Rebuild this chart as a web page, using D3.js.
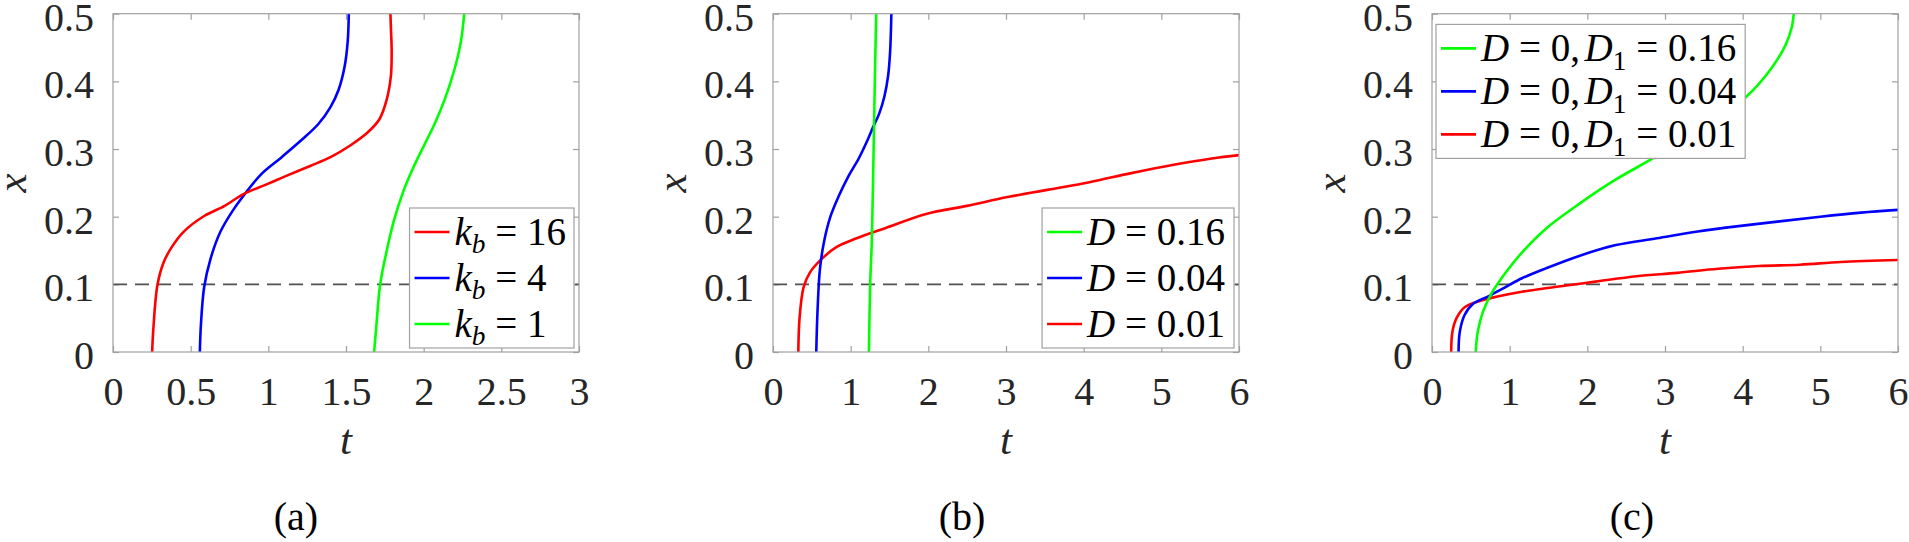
<!DOCTYPE html>
<html>
<head>
<meta charset="utf-8">
<title>Front position x(t) for different parameters</title>
<script src="https://d3js.org/d3.v7.min.js"></script>
<style>
    body { margin: 0; background: #fff; }
    svg { display: block; }
    svg text { font-family: "Liberation Serif", "Times New Roman", "DejaVu Serif", serif; }
    .frame { fill: none; stroke: #a0a0a0; stroke-width: 1.2px; }
    .axis path { display: none; }
    .axis line { stroke: #a0a0a0; stroke-width: 1.2px; }
    .axis text { fill: #262626; font-size: 40px; }
    .curve { fill: none; stroke-width: 2.6px; }
    .thresh { stroke: #505050; stroke-width: 1.8px; stroke-dasharray: 14 8; }
    .legend-box { fill: #fff; stroke: #a0a0a0; stroke-width: 1.2px; }
    .legend text { font-size: 39px; fill: #000; }
    .label { font-size: 43px; font-style: italic; fill: #262626; }
    .caption { font-size: 40px; fill: #000; }
</style>
</head>
<body>
<div id="chart"></div>
<script>
// ---- tick values / labels ----
const tTicksA = [0, 0.5, 1, 1.5, 2, 2.5, 3];
const tLabelsA = ["0", "0.5", "1", "1.5", "2", "2.5", "3"];
const tTicksBC = [0, 1, 2, 3, 4, 5, 6];
const tLabelsBC = ["0", "1", "2", "3", "4", "5", "6"];
const xTicks = [0, 0.1, 0.2, 0.3, 0.4, 0.5];
const xLabels = ["0", "0.1", "0.2", "0.3", "0.4", "0.5"];
const threshold = 0.1;
const captions = ["(a)", "(b)", "(c)"];

// ---- panel (a): k_b ----
const kb16T = [0.252, 0.26, 0.286, 0.325, 0.378, 0.456, 0.587, 0.719, 0.837, 0.981, 1.112, 1.269, 1.40, 1.532, 1.637, 1.715, 1.762, 1.789, 1.794, 1.789, 1.786];
const kb16X = [0, 0.035, 0.099, 0.132, 0.155, 0.178, 0.201, 0.216, 0.233, 0.247, 0.26, 0.275, 0.288, 0.306, 0.324, 0.344, 0.373, 0.408, 0.444, 0.48, 0.5];
const kb4T = [0.559, 0.566, 0.587, 0.627, 0.692, 0.771, 0.85, 0.955, 1.086, 1.217, 1.322, 1.40, 1.453, 1.492, 1.511, 1.518];
const kb4X = [0, 0.04, 0.096, 0.137, 0.178, 0.209, 0.234, 0.263, 0.288, 0.314, 0.337, 0.362, 0.388, 0.423, 0.459, 0.5];
const kb1T = [1.681, 1.694, 1.72, 1.755, 1.807, 1.873, 1.938, 2.004, 2.07, 2.135, 2.20, 2.24, 2.261];
const kb1X = [0, 0.035, 0.1, 0.142, 0.193, 0.24, 0.275, 0.306, 0.337, 0.373, 0.419, 0.459, 0.5];

// ---- panel (b): D ----
const d16T = [1.235, 1.251, 1.272, 1.298, 1.314, 1.329];
const d16X = [0, 0.1, 0.163, 0.316, 0.419, 0.5];
const d04T = [0.557, 0.573, 0.604, 0.657, 0.736, 0.841, 0.972, 1.104, 1.209, 1.287, 1.366, 1.435, 1.482, 1.508, 1.524];
const d04X = [0, 0.06, 0.122, 0.163, 0.199, 0.229, 0.26, 0.286, 0.311, 0.332, 0.352, 0.378, 0.408, 0.444, 0.5];
const d01T = [0.326, 0.342, 0.394, 0.473, 0.604, 0.815, 1.077, 1.445, 1.971, 2.496, 3.022, 3.547, 4.073, 4.598, 5.124, 5.649, 6];
const d01X = [0, 0.05, 0.096, 0.117, 0.135, 0.155, 0.168, 0.183, 0.204, 0.216, 0.229, 0.24, 0.251, 0.264, 0.276, 0.286, 0.291];

// ---- panel (c): D = 0, D_1 ----
const e16T = [0.563, 0.589, 0.658, 0.763, 0.947, 1.158, 1.474, 1.895, 2.368, 2.842, 3.263, 3.684, 4.053, 4.368, 4.553, 4.632, 4.658];
const e16X = [0, 0.03, 0.06, 0.086, 0.117, 0.147, 0.183, 0.219, 0.255, 0.286, 0.316, 0.347, 0.378, 0.419, 0.454, 0.48, 0.5];
const e04T = [0.342, 0.358, 0.421, 0.526, 0.737, 0.947, 1.158, 1.474, 1.895, 2.368, 2.895, 3.421, 3.947, 4.474, 5.0, 5.526, 6];
const e04X = [0, 0.03, 0.055, 0.071, 0.083, 0.096, 0.109, 0.124, 0.142, 0.158, 0.168, 0.178, 0.186, 0.193, 0.2, 0.206, 0.21];
const e01T = [0.247, 0.263, 0.316, 0.421, 0.632, 0.842, 1.158, 1.579, 2.105, 2.632, 3.158, 3.684, 4.211, 4.737, 5.263, 6];
const e01X = [0, 0.03, 0.05, 0.066, 0.076, 0.082, 0.089, 0.096, 0.104, 0.112, 0.117, 0.123, 0.127, 0.129, 0.133, 0.136];

const RED = "#ff0000", BLUE = "#0000ff", GREEN = "#00ff00";

const panels = [
    { left: 113, tMax: 3, ticks: tTicksA, labels: tLabelsA, caption: captions[0], captionX: 296,
      legend: { corner: "br", gap: 46 },
      series: [
        { t: kb16T, x: kb16X, color: RED, label: "k_b = 16" },
        { t: kb4T, x: kb4X, color: BLUE, label: "k_b = 4" },
        { t: kb1T, x: kb1X, color: GREEN, label: "k_b = 1" } ] },
    { left: 773, tMax: 6, ticks: tTicksBC, labels: tLabelsBC, caption: captions[1], captionX: 962,
      legend: { corner: "br", gap: 46 },
      series: [
        { t: d16T, x: d16X, color: GREEN, label: "D = 0.16" },
        { t: d04T, x: d04X, color: BLUE, label: "D = 0.04" },
        { t: d01T, x: d01X, color: RED, label: "D = 0.01" } ] },
    { left: 1432, tMax: 6, ticks: tTicksBC, labels: tLabelsBC, caption: captions[2], captionX: 1632,
      legend: { corner: "tl", gap: 43 },
      series: [
        { t: e16T, x: e16X, color: GREEN, label: "D = 0, D_1 = 0.16" },
        { t: e04T, x: e04X, color: BLUE, label: "D = 0, D_1 = 0.04" },
        { t: e01T, x: e01X, color: RED, label: "D = 0, D_1 = 0.01" } ] }
];

const W = 1909, H = 542;
const pw = 466, plotTop = 13.7, plotBottom = 352;

const svg = d3.select("#chart").append("svg")
    .attr("width", W).attr("height", H);
svg.append("rect").attr("width", W).attr("height", H).attr("fill", "#fff");

// write "k_b = 16" style labels: letters italic, _x subscript, TeX-ish spacing round "="
function mathText(textSel, str, fs) {
    let pendingDx = 0, shifted = false;
    const s = str.replace(/ /g, "");
    for (let i = 0; i < s.length; i++) {
        const c = s[i];
        if (c === "_") {
            const sub = s[++i];
            textSel.append("tspan").text(sub)
                .attr("font-style", /[A-Za-z]/.test(sub) ? "italic" : "normal")
                .attr("font-size", fs * 0.7)
                .attr("dy", fs * 0.22);
            shifted = true;
            continue;
        }
        const ts = textSel.append("tspan").text(c)
            .attr("font-style", /[A-Za-z]/.test(c) ? "italic" : "normal");
        let dx = pendingDx;
        pendingDx = 0;
        if (c === "=") { dx += fs * 0.25; pendingDx = fs * 0.25; }
        if (c === ",") pendingDx = fs * 0.12;
        if (dx) ts.attr("dx", dx);
        if (shifted) { ts.attr("dy", -fs * 0.22); shifted = false; }
    }
}

panels.forEach((p, pi) => {
    const right = p.left + pw;
    const xs = d3.scaleLinear().domain([0, p.tMax]).range([p.left, right]);
    const ys = d3.scaleLinear().domain([0, 0.5]).range([plotBottom, plotTop]);
    const g = svg.append("g");

    const clipId = "clip" + pi;
    svg.append("clipPath").attr("id", clipId).append("rect")
        .attr("x", p.left).attr("y", plotTop).attr("width", pw).attr("height", plotBottom - plotTop);

    // axes with inward ticks on all sides
    const tickFmt = (d, i) => p.labels[i];
    const ax = g.append("g").attr("class", "axis").attr("transform", `translate(0,${plotBottom})`)
        .call(d3.axisBottom(xs).tickValues(p.ticks).tickFormat(tickFmt).tickSize(-6));
    ax.attr("font-family", null);
    ax.selectAll("text").attr("y", 53).attr("dy", 0);
    g.append("g").attr("class", "axis").attr("transform", `translate(0,${plotTop})`)
        .call(d3.axisTop(xs).tickValues(p.ticks).tickFormat("").tickSize(-6));
    const ay = g.append("g").attr("class", "axis").attr("transform", `translate(${p.left},0)`)
        .call(d3.axisLeft(ys).tickValues(xTicks).tickFormat((d, i) => xLabels[i]).tickSize(-6));
    ay.attr("font-family", null);
    ay.selectAll("text").attr("x", -19).attr("dy", 16.5);
    g.append("g").attr("class", "axis").attr("transform", `translate(${right},0)`)
        .call(d3.axisRight(ys).tickValues(xTicks).tickFormat("").tickSize(-6));

    // threshold line
    g.append("line").attr("class", "thresh")
        .attr("x1", xs(0)).attr("x2", xs(p.tMax))
        .attr("y1", ys(threshold)).attr("y2", ys(threshold));

    const line = d3.line()
        .x(d => xs(d[0])).y(d => ys(d[1]))
        .curve(d3.curveCatmullRom.alpha(0.5));
    const cg = g.append("g").attr("clip-path", `url(#${clipId})`);
    p.series.slice().reverse().forEach(s => {
        cg.append("path").attr("class", "curve")
            .attr("stroke", s.color)
            .attr("d", line(s.t.map((t, i) => [t, s.x[i]])));
    });

    g.append("rect").attr("class", "frame")
        .attr("x", p.left).attr("y", plotTop).attr("width", pw).attr("height", plotBottom - plotTop);

    // legend
    const fs = 39;
    const lg = g.append("g").attr("class", "legend");
    const box = lg.append("rect").attr("class", "legend-box");
    const texts = p.series.map((s, i) => {
        const row = lg.append("g").attr("transform", `translate(0,${i * p.legend.gap})`);
        row.append("line").attr("x1", 5).attr("x2", 40).attr("y1", 0).attr("y2", 0)
            .attr("stroke", s.color).attr("stroke-width", 2.6);
        const tx = row.append("text").attr("x", 45).attr("y", fs * 0.33);
        mathText(tx, s.label, fs);
        return tx;
    });
    // bbox width includes the dx spacing, unlike getComputedTextLength
    const tw = d3.max(texts, t => t.node().getBBox().width);
    const bw = 45 + tw + 8;
    const bh = 2 * p.legend.gap + 48;
    let bx, by;
    if (p.legend.corner === "br") { bx = right - 5 - bw; by = plotBottom - 4 - bh; }
    else { bx = p.left + 4; by = plotTop + 10.7; }
    box.attr("x", 0).attr("y", -24).attr("width", bw).attr("height", bh);
    lg.attr("transform", `translate(${bx},${by + 24})`);

    // axis labels and caption
    const cx = (p.left + right) / 2;
    g.append("text").attr("class", "label")
        .attr("text-anchor", "middle")
        .attr("transform", `translate(${p.left - 87},${(plotTop + plotBottom) / 2}) rotate(-90)`)
        .text("x");
    g.append("text").attr("class", "label")
        .attr("text-anchor", "middle").attr("x", cx).attr("y", 454)
        .text("t");
    g.append("text").attr("class", "caption")
        .attr("text-anchor", "middle").attr("x", p.captionX).attr("y", 530)
        .text(p.caption);
});
</script>
</body>
</html>
